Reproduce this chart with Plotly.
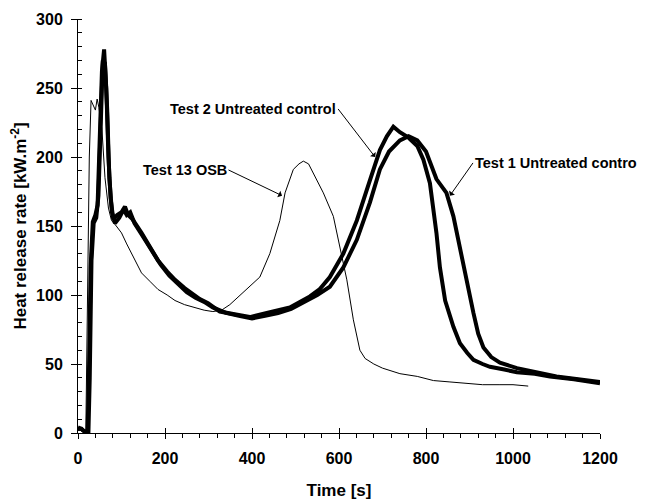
import plotly.graph_objects as go

# Test 13 OSB (thin line)
t_osb = [0, 5, 10, 14, 18, 22, 26, 30, 35, 40, 44, 48, 55, 62, 70, 77, 88, 100, 112, 123, 135,
         146, 165, 184, 205, 223, 245, 269, 290, 310, 330, 349, 370, 395, 418, 441, 464, 476,
         495, 508, 518, 530, 541, 564, 587, 602, 618, 633, 648, 660, 680, 700, 740, 780, 817,
         855, 894, 930, 970, 1000, 1035]
hrr_osb = [2, 2, 1, 1, 2, 90, 200, 241, 237, 234, 242, 236, 220, 185, 163, 154, 150, 145, 137, 130, 123,
           116, 110, 104, 100, 96, 93, 91, 89, 88, 89, 93, 99, 106, 113, 130, 154, 174,
           191, 195, 197, 195, 188, 174, 157, 135, 111, 82, 60, 54, 50, 47, 43, 41, 38,
           37, 36, 35, 35, 35, 34]

# Test 2 Untreated control (thick line, earlier second peak)
t_test2 = [0, 8, 15, 22, 25, 29, 34, 40, 45, 50, 55, 60, 65, 70, 75, 81, 90, 100, 108, 115,
           125, 146, 165, 184, 205, 223, 245, 261, 280, 299, 326, 360, 395, 434, 460, 487, 510,
           533, 555, 579, 610, 641, 671, 694, 710, 725, 740, 760, 780, 794, 809, 817, 824, 832,
           844, 863, 878, 895, 909, 930, 947, 980, 1009, 1050, 1085, 1140, 1200]
hrr_test2 = [4, 3, 1, 1, 40, 120, 153, 158, 165, 205, 262, 278, 250, 200, 170, 155, 158, 160, 164, 158,
             155, 145, 135, 125, 117, 111, 105, 101, 97, 94, 88, 86, 84, 87, 89, 91, 95,
             99, 104, 113, 130, 154, 183, 205, 215, 222, 218, 214, 208, 198, 181, 164, 145, 120,
             96, 77, 65, 58, 53, 50, 48, 46, 44, 43, 41, 39, 36]

# Test 1 Untreated control (thick line)
t_test1 = [0, 8, 15, 24, 27, 31, 36, 42, 47, 52, 57, 62, 67, 72, 78, 85, 95, 105, 112, 120,
           130, 150, 170, 190, 210, 230, 250, 270, 290, 310, 340, 370, 400, 430, 460, 490, 520,
           550, 579, 610, 641, 671, 694, 715, 740, 760, 780, 800, 824, 847, 863, 878, 894, 909,
           920, 932, 950, 970, 1009, 1050, 1100, 1150, 1200]
hrr_test1 = [3, 3, 1, 1, 40, 125, 152, 156, 172, 225, 270, 268, 235, 185, 160, 152, 156, 162, 158, 160,
             152, 142, 132, 122, 114, 108, 102, 98, 95, 91, 87, 85, 83, 85, 87, 90, 95,
             100, 106, 120, 140, 167, 191, 204, 212, 215, 212, 204, 184, 174, 157, 133, 109, 87,
             72, 62, 55, 51, 47, 44, 41, 39, 37]

FONT = "Liberation Sans, Arial, sans-serif"
major_x = [0, 200, 400, 600, 800, 1000, 1200]
major_y = [0, 50, 100, 150, 200, 250, 300]

fig = go.Figure()
fig.add_trace(go.Scatter(x=t_osb, y=hrr_osb, mode="lines", line=dict(color="black", width=1),
                         name="Test 13 OSB"))
fig.add_trace(go.Scatter(x=t_test2, y=hrr_test2, mode="lines", line=dict(color="black", width=4),
                         name="Test 2 Untreated control"))
fig.add_trace(go.Scatter(x=t_test1, y=hrr_test1, mode="lines", line=dict(color="black", width=4),
                         name="Test 1 Untreated control"))
# empty trace so the overlaid tick axes get drawn
fig.add_trace(go.Scatter(x=[None], y=[None], xaxis="x2", yaxis="y2", showlegend=False,
                         hoverinfo="skip"))

# labels with arrows: (text, text anchor x, y, xanchor, arrow tip x, y)
labels = [
    ("Test 13 OSB", 346, 190.6, "right", 469, 172),
    ("Test 2 Untreated control", 598, 234.8, "right", 683, 200),
    ("Test 1 Untreated control", 908, 195.7, "left", 855, 172),
]
for txt, tx, ty, anc, x1, y1 in labels:
    fig.add_annotation(x=x1, y=y1, ax=tx, ay=ty, axref="x", ayref="y", text=txt,
                       xanchor=anc, yanchor="middle", showarrow=True, arrowhead=1,
                       arrowsize=1.2, arrowwidth=1, arrowcolor="black",
                       font=dict(family=FONT, size=14.5, color="black", weight="bold"))

# page body adds an 8px offset, so the figure is a bit smaller than the window
fig.update_layout(
    width=637, height=492,
    margin=dict(l=70, r=45, t=11, b=67),
    plot_bgcolor="white", paper_bgcolor="white",
    showlegend=False,
    font=dict(family=FONT, size=15, color="black", weight="bold"),
    xaxis=dict(range=[0, 1200], tickvals=major_x, automargin=False,
               ticks="outside", ticklen=5, tickwidth=1, tickcolor="black", ticklabelstandoff=6,
               minor=dict(dtick=40, ticks="outside", ticklen=4, tickcolor="black", showgrid=False),
               showline=True, linecolor="black", linewidth=1, showgrid=False, zeroline=False,
               tickfont=dict(family=FONT, size=16, weight="bold"),
               title=dict(text="Time [s]", standoff=18,
                          font=dict(family=FONT, size=17, weight="bold"))),
    yaxis=dict(range=[0, 300], tickvals=major_y, automargin=False,
               ticks="outside", ticklen=6, tickwidth=1, tickcolor="black", ticklabelstandoff=5,
               minor=dict(dtick=10, ticks="inside", ticklen=4, tickcolor="black", showgrid=False),
               showline=True, linecolor="black", linewidth=1, showgrid=False, zeroline=False,
               tickfont=dict(family=FONT, size=16, weight="bold"),
               title=dict(text="Heat release rate [kW.m<sup>-2</sup>]", standoff=5,
                          font=dict(family=FONT, size=17, weight="bold"))),
    xaxis2=dict(range=[0, 1200], overlaying="x", anchor="y", side="bottom",
                tickvals=major_x, ticks="inside", ticklen=5, automargin=False,
                tickcolor="black", showticklabels=False, showgrid=False, zeroline=False,
                showline=False),
    yaxis2=dict(range=[0, 300], overlaying="y", anchor="x", side="left",
                tickvals=major_y, ticks="inside", ticklen=4, automargin=False,
                tickcolor="black", showticklabels=False, showgrid=False, zeroline=False,
                showline=False),
)

fig.write_html("out.html")
